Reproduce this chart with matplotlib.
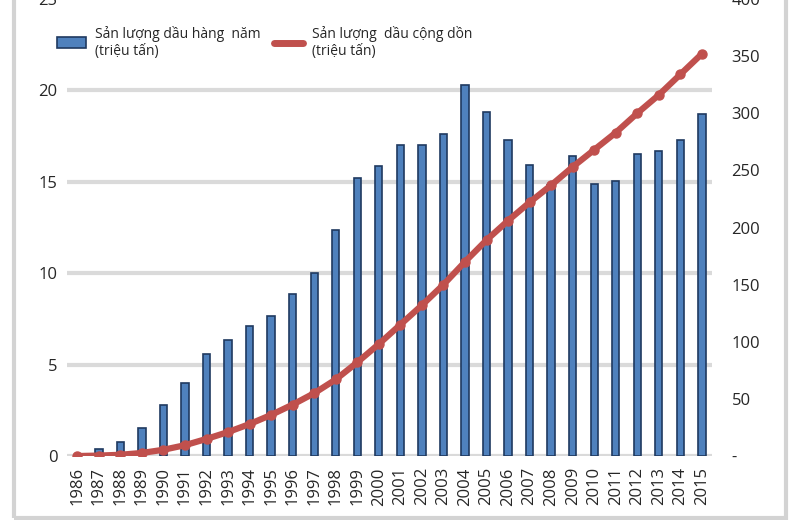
import matplotlib.pyplot as plt
import numpy as np
from matplotlib.patches import Patch, Rectangle
from matplotlib.lines import Line2D

plt.rcParams['font.family'] = ['Open Sans', 'DejaVu Sans']

years = ['1986', '1987', '1988', '1989', '1990', '1991', '1992', '1993', '1994', '1995',
         '1996', '1997', '1998', '1999', '2000', '2001', '2002', '2003', '2004', '2005',
         '2006', '2007', '2008', '2009', '2010', '2011', '2012', '2013', '2014', '2015']

# annual oil output (million tonnes)
annual = [0.04, 0.36, 0.75, 1.55, 2.78, 4.0, 5.57, 6.34, 7.1, 7.68,
          8.85, 10.0, 12.34, 15.2, 15.85, 17.0, 17.0, 17.6, 20.3, 18.8,
          17.27, 15.9, 14.8, 16.4, 14.9, 15.05, 16.5, 16.7, 17.3, 18.7]

# cumulative output (million tonnes)
cumulative = [0, 0.4, 1.1, 2.7, 5.5, 9.5, 15, 21, 28, 36,
              45, 55, 67, 82, 98, 115, 132, 150, 170, 189,
              206, 222, 237, 253, 268, 283, 300, 316, 334, 352]

label_bar = 'Sản lượng dầu hàng  năm\n(triệu tấn)'
label_line = 'Sản lượng  dầu cộng dồn\n(triệu tấn)'

blue = '#4F81BD'
red = '#C0504D'
txt = '#262626'

fig = plt.figure(figsize=(8, 5.2), dpi=100)
ax = fig.add_axes([0.084, 0.123, 0.806, 0.879])

x = np.arange(len(years))
ax.bar(x, annual, width=0.34, color=blue, edgecolor='#1F3A60', linewidth=1.2, zorder=2)
ax.set_ylim(0, 25)
ax.set_yticks([0, 5, 10, 15, 20, 25])
ax.set_xlim(-0.47, len(years) - 0.53)
ax.set_xticks(x)
ax.set_xticklabels(years, rotation=90)
ax.grid(axis='y', color='#DADADA', linewidth=3, zorder=0)
ax.set_axisbelow(True)
for s in ax.spines.values():
    s.set_visible(False)
ax.tick_params(axis='y', length=0, pad=7, labelsize=12, labelcolor=txt)
ax.tick_params(axis='x', length=0, pad=8, labelsize=12, labelcolor=txt)

ax2 = ax.twinx()
ax2.plot(x, cumulative, color=red, linewidth=4.5, marker='o', markersize=6.5,
         solid_capstyle='round', zorder=3)
ax2.set_ylim(0, 400)
ax2.set_yticks(np.arange(0, 401, 50))
ax2.set_yticklabels(['-'] + [str(v) for v in range(50, 401, 50)])
for s in ax2.spines.values():
    s.set_visible(False)
ax2.tick_params(axis='y', length=0, pad=14, labelsize=12, labelcolor=txt)

handles = [Patch(facecolor=blue, edgecolor='#1F3A60', linewidth=1.2),
           Line2D([], [], color=red, linewidth=5, solid_capstyle='round')]
fig.legend(handles, [label_bar, label_line], loc='upper left', ncol=2,
           bbox_to_anchor=(0.056, 0.975), frameon=False, fontsize=10,
           handlelength=2.1, handleheight=0.8, handletextpad=0.6,
           columnspacing=1.0, labelcolor=txt)

# gray frame of the original chart box
fig.patches.append(Rectangle((0.017, 0.004), 0.966, 1.1, transform=fig.transFigure,
                             fill=False, edgecolor='#D3D3D3', linewidth=3))

plt.savefig('out.png', dpi=100)
